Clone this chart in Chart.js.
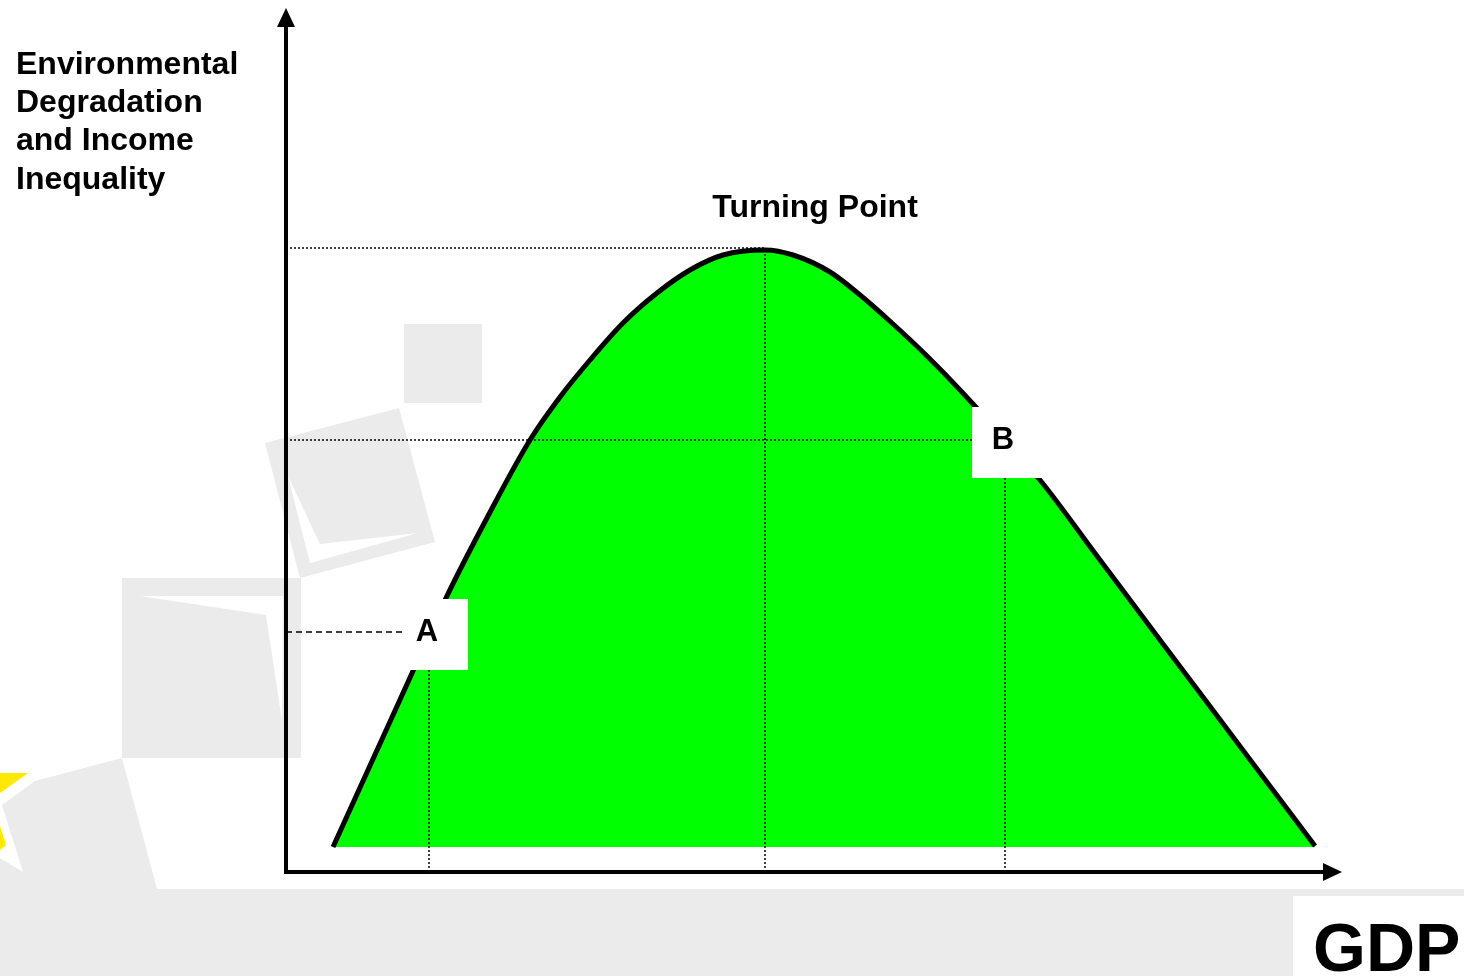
<!DOCTYPE html>
<html>
<head>
<meta charset="utf-8">
<title>Turning Point</title>
<script src="https://cdn.jsdelivr.net/npm/chart.js@4.4.1/dist/chart.umd.min.js"></script>
<style>
    body { margin: 0; background: #fff; }
    canvas { display: block; }
</style>
</head>
<body>
<canvas id="curveChart" width="1464" height="976"></canvas>
<script>
// Curve (x = GDP, y = degradation)
const gdpValues = [4.7, 8.7, 12.7, 16.0, 20.2, 24.4, 27.4, 30.4, 33.7, 37.1, 40.4, 43.7, 47.9,
    50.7, 54.4, 57.4, 60.7, 64.1, 67.4, 75.4, 81.1, 87.7, 94.4, 101.1, 102.9];
const degradationValues = [2.5, 11.3, 20.1, 27.4, 35.6, 43.2, 47.5, 51.2, 54.9, 57.9, 60.2, 61.7, 62.2,
    61.7, 60.0, 57.7, 54.8, 51.6, 48.2, 39.2, 31.6, 22.8, 13.9, 5.0, 2.6];
const baseLevel = 2.5;

// Marked points on the curve
const pointNames = ['A', 'Turning Point', 'B'];
const pointGdp = [14.3, 47.9, 71.9];
const pointLevel = [24.0, 62.4, 43.2];

const yTitleLines = ['Environmental', 'Degradation', 'and Income', 'Inequality'];
const xTitle = 'GDP';

const FONT = '"Liberation Sans", Arial, sans-serif';

const curvePoints = gdpValues.map((x, i) => ({ x: x, y: degradationValues[i] }));

function guide(points, dash) {
    return {
        data: points,
        borderColor: '#000',
        borderWidth: 1.5,
        borderDash: dash,
        fill: false,
        pointRadius: 0,
        tension: 0,
        order: 1,
    };
}

const [aX, tX, bX] = pointGdp;
const [aY, tY, bY] = pointLevel;

// Background art behind the chart
const backdrop = {
    id: 'backdrop',
    beforeDraw(chart) {
        const c = chart.ctx;
        c.save();
        c.fillStyle = '#fff';
        c.fillRect(0, 0, chart.width, chart.height);
        const poly = (pts, color) => {
            c.fillStyle = color;
            c.beginPath();
            pts.forEach((p, i) => i ? c.lineTo(p[0], p[1]) : c.moveTo(p[0], p[1]));
            c.closePath();
            c.fill();
        };
        poly([[0, 889], [1464, 889], [1464, 976], [0, 976]], '#ebebeb');
        poly([[1293, 896], [1464, 896], [1464, 976], [1293, 976]], '#fff');
        poly([[404, 324], [482, 324], [482, 403], [404, 403]], '#ebebeb');
        poly([[265, 443], [399, 408], [435, 542], [300, 578]], '#ebebeb');
        poly([[288, 476], [320, 544], [418, 533], [310, 563]], '#fff');
        poly([[122, 578], [301, 578], [301, 758], [122, 758]], '#ebebeb');
        poly([[140, 596], [283, 596], [282, 721], [266, 615]], '#fff');
        poly([[35, 781], [122, 758], [157, 889], [0, 889], [0, 858], [23, 872], [2, 805]], '#ebebeb');
        poly([[0, 773], [28, 773], [0, 793]], '#ffe800');
        poly([[0, 826], [6, 845], [0, 850]], '#ffe800');
        c.restore();
    }
};

// Axes with arrows, label boxes and texts
const overlay = {
    id: 'overlay',
    afterDatasetsDraw(chart) {
        const c = chart.ctx;
        const xs = chart.scales.x;
        const ys = chart.scales.y;
        const area = chart.chartArea;
        const ox = xs.getPixelForValue(0);
        const oy = ys.getPixelForValue(0);
        c.save();

        // white boxes for A and B
        c.font = 'bold 31px ' + FONT;
        c.textAlign = 'center';
        c.textBaseline = 'middle';
        [[aX, aY, 'A', 26, 65], [bX, bY, 'B', 33, 71]].forEach(([vx, vy, name, left, w]) => {
            const px = xs.getPixelForValue(vx);
            const py = ys.getPixelForValue(vy);
            c.fillStyle = '#fff';
            c.fillRect(px - left, py - 33, w, 71);
            c.fillStyle = '#000';
            c.fillText(name, px - 2, py);
        });

        // axes
        c.strokeStyle = '#000';
        c.fillStyle = '#000';
        c.lineWidth = 4;
        c.beginPath();
        c.moveTo(ox, oy + 2);
        c.lineTo(ox, area.top + 16);
        c.moveTo(ox - 2, oy);
        c.lineTo(area.right - 16, oy);
        c.stroke();
        c.beginPath();
        c.moveTo(ox, area.top - 2);
        c.lineTo(ox - 9, area.top + 17);
        c.lineTo(ox + 9, area.top + 17);
        c.closePath();
        c.fill();
        c.beginPath();
        c.moveTo(area.right + 2, oy);
        c.lineTo(area.right - 17, oy - 9);
        c.lineTo(area.right - 17, oy + 9);
        c.closePath();
        c.fill();

        // texts
        c.font = 'bold 32px ' + FONT;
        c.textAlign = 'center';
        c.fillText(pointNames[1], xs.getPixelForValue(tX) + 50, ys.getPixelForValue(tY) - 40);
        c.textAlign = 'left';
        yTitleLines.forEach((line, i) => c.fillText(line, 16, 65 + i * 38.3));
        c.font = 'bold 68px ' + FONT;
        c.textBaseline = 'alphabetic';
        c.fillText(xTitle, 1313, 971);
        c.restore();
    }
};

const ctx = document.getElementById('curveChart').getContext('2d');
const curveChart = new Chart(ctx, {
    type: 'line',
    data: {
        datasets: [
            {
                label: 'Curve',
                data: curvePoints,
                borderColor: '#000',
                borderWidth: 5,
                backgroundColor: '#00ff00',
                fill: { value: baseLevel },
                cubicInterpolationMode: 'monotone',
                pointRadius: 0,
                order: 2,
            },
            guide([{ x: 0, y: tY }, { x: tX, y: tY }], [2, 2]),
            guide([{ x: tX, y: 0 }, { x: tX, y: tY }], [2, 2]),
            guide([{ x: 0, y: bY }, { x: bX, y: bY }], [2, 2]),
            guide([{ x: bX, y: 0 }, { x: bX, y: bY }], [2, 2]),
            guide([{ x: aX, y: 0 }, { x: aX, y: aY }], [2, 2]),
            guide([{ x: 0, y: aY }, { x: aX, y: aY }], [6, 4]),
        ],
    },
    options: {
        responsive: false,
        animation: false,
        layout: {
            padding: { left: 286, right: 124, top: 10, bottom: 104 },
        },
        scales: {
            x: { type: 'linear', min: 0, max: 105.4, display: false },
            y: { type: 'linear', min: 0, max: 86.2, display: false },
        },
        plugins: {
            legend: { display: false },
            tooltip: { enabled: false },
        },
    },
    plugins: [backdrop, overlay],
});
</script>
</body>
</html>
